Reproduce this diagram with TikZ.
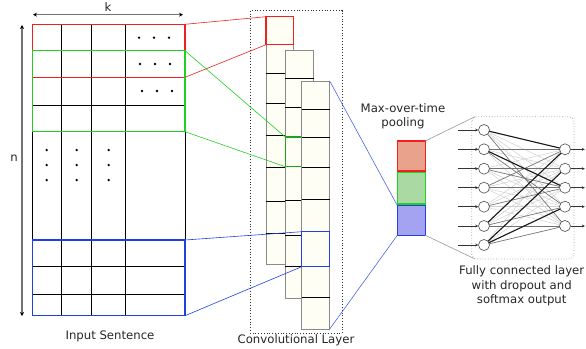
\documentclass[tikz,border=0pt]{standalone}
\usepackage{fontspec}
\setmainfont{DejaVu Sans}
\usetikzlibrary{arrows.meta,calc}
\definecolor{ivory}{HTML}{FFFEF4}
\definecolor{cellgray}{HTML}{8A8A8A}
\definecolor{poolred}{HTML}{E9A38D}
\definecolor{poolgreen}{HTML}{ABD9A3}
\definecolor{poolblue}{HTML}{A3A3F2}
\definecolor{myred}{HTML}{F02020}
\definecolor{mygreen}{HTML}{20D020}
\definecolor{myblue}{HTML}{2040E0}
\begin{document}
\begin{tikzpicture}[x=1pt,y=-1pt,
  lbl/.style={font=\fontsize{11.7}{14.3}\selectfont, text=black!85, inner sep=0pt, align=center},
  grid/.style={draw=black, line width=0.8pt},
  dimarrow/.style={draw=black!55, line width=1.1pt, {Stealth[length=4pt,width=4pt,color=black]}-{Stealth[length=4pt,width=4pt,color=black]}},
  conv/.style={draw=cellgray, fill=ivory, line width=0.8pt},
  sep/.style={draw=black, line width=0.8pt},
  neuron/.style={circle, draw=black!70, fill=white, minimum size=11pt, inner sep=0pt, line width=0.6pt},
  nnin/.style={-{Stealth[length=3pt,width=3pt]}, line width=0.6pt, black!80},
  w1/.style={line width=1.1pt, black!90},
  w2/.style={line width=0.6pt, black!55},
  w3/.style={line width=0.5pt, black!18},
  dot/.style={fill=black}
]
\useasboundingbox (0,0) rectangle (586,348);

% ---------- input matrix ----------
\foreach \y in {24.3,50.7,77.3,105,131.7,240,266.7,294.3,315.7}
  \draw[grid] (32.3,\y) -- (185,\y);
\foreach \x in {32.3,61.7,91.7,125.3,185}
  \draw[grid] (\x,24.3) -- (\x,315.7);
\foreach \y/\a in {37.7/0,64/1,91/3}{
  \foreach \x in {139,154,169}
    \fill[dot] (\x+\a,\y) circle (1.3);
}
\foreach \x in {46.7,76.7,108.7}{
  \foreach \y in {150,165,180}
    \fill[dot] (\x,\y) circle (1.3);
}
\coordinate (rTR) at (185,24.3);  \coordinate (rBR) at (185,77.3);
\coordinate (gTR) at (185,50.7);  \coordinate (gBR) at (185,131.7);
\coordinate (bTR) at (185,240);   \coordinate (bBR) at (185,315.7);
\draw[myred, line width=1.1pt] (32.3,24.3) rectangle (185,77.3);
\draw[mygreen, line width=1.1pt] (32.3,50.7) rectangle (185,131.7);
\draw[myblue, line width=1.1pt] (32.3,240) rectangle (185,315.7);

\draw[dimarrow] (33,14.7) coordinate (kL) -- (183,14.7) coordinate (kR);
\node[lbl] (k) at (108,7) {k};
\draw[dimarrow] (22,316) coordinate (nB) -- (22,25) coordinate (nT);
\node[lbl] (n) at (14,158) {n};
\node[lbl] (insent) at (110,336) {Input Sentence};

% ---------- convolutional layer ----------
\draw[black!80, line width=0.8pt, dotted] (250,10.7) rectangle (342,333);
% column A
\draw[conv] (266,16.7) rectangle (293.7,264.7);
\foreach \y in {44.7,73.3,103.7,135,167.3,201.7,233}
  \draw[sep] (266,\y) -- (293.7,\y);
\draw[myred, line width=1.2pt] (266,16.7) coordinate (redTL) rectangle (293.7,44.7);
\coordinate (redBL) at (266,44.7);
% column B
\draw[conv] (285.3,50) rectangle (313.7,298.3);
\foreach \y in {78.7,107,137,166.7,200.7,235,266.7}
  \draw[sep] (285.3,\y) -- (313.7,\y);
\draw[mygreen!80!black, line width=1.2pt] (285.3,137) coordinate (grTL) rectangle (313.7,166.7);
\coordinate (grBL) at (285.3,166.7);
% column C
\draw[conv] (301.7,81) rectangle (329.7,329);
\foreach \y in {109,137.7,167.7,199,231.7,266.7,297}
  \draw[sep] (301.7,\y) -- (329.7,\y);
\draw[myblue, line width=1.2pt] (301.7,231.7) coordinate (blTL) rectangle (329.7,266.7);
\coordinate (blBL) at (301.7,266.7);
\coordinate (cTR) at (329.7,81);
\coordinate (cBR) at (329.7,329);
\node[lbl] (convlbl) at (296,340) {Convolutional Layer};

% connectors input -> conv
\draw[myred, line width=0.6pt] (rTR) -- (redTL);
\draw[myred, line width=0.6pt] (rBR) -- (redBL);
\draw[mygreen, line width=0.6pt] (gTR) -- (grTL);
\draw[mygreen, line width=0.6pt] (gBR) -- (grBL);
\draw[myblue, line width=0.6pt] (bTR) -- (blTL);
\draw[myblue, line width=0.6pt] (bBR) -- (blBL);

% ---------- pooling ----------
\draw[myred, fill=poolred, line width=1.2pt] (397.3,141) rectangle (425.3,171);
\draw[mygreen, fill=poolgreen, line width=1.2pt] (397.3,172.5) rectangle (425.3,204);
\draw[myblue, fill=poolblue, line width=1.2pt] (397.3,205.5) coordinate (pbTL) rectangle (425.3,235.3);
\coordinate (pbBL) at (397.3,235.3);
\coordinate (prTR) at (425.3,141);
\coordinate (pbBR) at (425.3,235.3);
\node[lbl] (poollbl) at (403,116) {Max-over-time\\pooling};
\draw[myblue!80, line width=0.6pt] (cTR) -- (pbTL);
\draw[myblue!80, line width=0.6pt] (cBR) -- (pbBL);

% ---------- fully connected ----------
\draw[black!40, dotted, line width=0.7pt, rounded corners=5pt] (471.7,116.7) rectangle (574,259);
\coordinate (nnTL) at (475,116.7);
\coordinate (nnBL) at (475,259);
\draw[black!40, line width=0.6pt] (prTR) -- (nnTL);
\draw[black!40, line width=0.6pt] (pbBR) -- (nnBL);

\foreach \i/\y in {1/130,2/149.3,3/168.7,4/187.7,5/206.7,6/226,7/245}
  \coordinate (ic\i) at (484,\y);
\foreach \o/\y in {1/149.3,2/168.7,3/187.7,4/206.7,5/226}
  \coordinate (oc\o) at (565,\y);
% light connections
\foreach \i in {1,...,7}{
  \foreach \o in {1,...,5}
    \draw[w3] (ic\i) -- (oc\o);
}
% medium
\foreach \i/\o in {1/5,2/4,2/1,3/2,4/3,6/5,3/3,5/3,6/4,4/1,7/5}
  \draw[w2] (ic\i) -- (oc\o);
% strong
\foreach \i/\o in {1/1,2/3,6/1,7/4,7/2}
  \draw[w1] (ic\i) -- (oc\o);

\foreach \i in {1,...,7}{
  \node[neuron] (in\i) at (ic\i) {};
  \draw[nnin] ($(in\i.west)+(-20,0)$) coordinate (inA\i) -- (in\i.west);
}
\foreach \o in {1,...,5}{
  \node[neuron] (out\o) at (oc\o) {};
  \draw[nnin] (out\o.east) -- ($(out\o.east)+(14,0)$) coordinate (outA\o);
}
\node[lbl] (fclbl) at (521.7,286) {Fully connected layer\\with dropout and\\softmax output};
\end{tikzpicture}
\end{document}
